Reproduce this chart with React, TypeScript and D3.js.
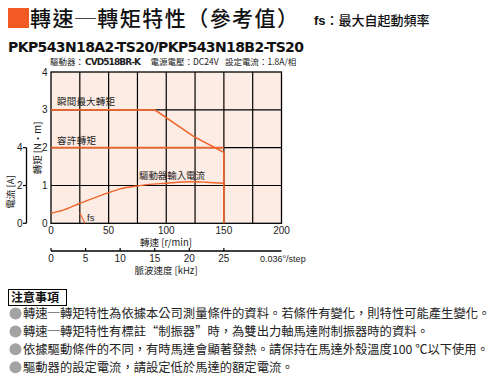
import React from 'react'
import * as d3 from 'd3'

// speed [r/min] vs torque [N·m]
const maxTorque: [number, number][] = [[0, 3], [90, 3], [124, 2.29], [149, 1.89], [150, 1.88], [150, 0]]
const ratedTorque: [number, number][] = [[0, 2], [150, 2]]
// speed [r/min] vs driver input current [A]
const inputCurrent: [number, number][] = [
  [0, 0.53], [10, 0.68], [25, 1.06], [40, 1.4], [50, 1.62], [60, 1.82], [75, 1.98],
  [100, 2.12], [120, 2.2], [135, 2.17], [150, 2.12],
]
const fsLine: [number, number][] = [[25, 0.28], [29.5, 0]]

const speedTicks = [0, 50, 100, 150, 200]
const gridSpeeds = [25, 50, 75, 100, 125, 150, 175]
const torqueTicks = [0, 1, 2, 3, 4]
const currentTicks = [0, 2, 4]
const khzTicks = [0, 5, 10, 15, 20, 25]

const notes = [
  '轉速─轉矩特性為依據本公司測量條件的資料。若條件有變化，則特性可能產生變化。',
  '轉速─轉矩特性有標註“制振器”時，為雙出力軸馬達附制振器時的資料。',
  '依據驅動條件的不同，有時馬達會顯著發熱。請保持在馬達外殼溫度100 ℃以下使用。',
  '驅動器的設定電流，請設定低於馬達的額定電流。',
]

const ORANGE = '#f0652a'
const CJK = '"Noto Sans CJK TC", "Noto Sans", sans-serif'
const NUM = '"Liberation Sans", Arial, sans-serif'

export default function App() {
  const x = d3.scaleLinear().domain([0, 200]).range([51, 281.5])
  const y = d3.scaleLinear().domain([0, 4]).range([223.3, 72])
  const yCur = d3.scaleLinear().domain([0, 4]).range([223.3, 147.7])
  const xKhz = d3.scaleLinear().domain([0, 200 / 6]).range([51, 281.5])

  const torqueLine = d3.line<[number, number]>().x(d => x(d[0])).y(d => y(d[1]))
  const currentLine = d3.line<[number, number]>().x(d => x(d[0])).y(d => yCur(d[1])).curve(d3.curveMonotoneX)

  const [x0, x1] = x.range()
  const [yb, yt] = y.range()

  return (
    <svg width={504} height={380} style={{ position: 'absolute', left: 0, top: 0, background: '#fff' }}>
      {/* header */}
      <rect x={8} y={8} width={21} height={20} fill="#f15a22" />
      <text x={30} y={26} fontFamily={CJK} fontSize={21} fontWeight={500} textLength={268} fill="#111">轉速─轉矩特性（參考值）</text>
      <text x={314} y={24.5} fontFamily={CJK} fontSize={13} fontWeight={500} fill="#111">
        <tspan fontWeight={700} fontFamily={NUM}>fs</tspan>：最大自起動頻率
      </text>
      <text x={8} y={52} fontFamily='"DejaVu Sans", sans-serif' fontSize={14} fontWeight={700} textLength={296} fill="#111">PKP543N18A2-TS20/PKP543N18B2-TS20</text>
      <text x={50} y={65} fontFamily={CJK} fontSize={8.5} fill="#222">驅動器：</text>
      <text x={85} y={65} fontFamily='"DejaVu Sans", sans-serif' fontSize={9} fontWeight={700} textLength={56} fill="#222">CVD518BR-K</text>
      <text x={150.5} y={65} fontFamily={CJK} fontSize={8.5} fill="#222">電源電壓：DC24V</text>
      <text x={225} y={65} fontFamily={CJK} fontSize={8.5} fill="#222">設定電流：1.8A/相</text>

      {/* plot area */}
      <rect x={x0} y={yt} width={x1 - x0} height={yb - yt} fill="#fdece4" />
      {gridSpeeds.map(s => (
        <line key={'v' + s} x1={x(s)} x2={x(s)} y1={yt} y2={yb} stroke="#000" strokeWidth={1.2} />
      ))}
      {[1, 2, 3].map(t => (
        <line key={'h' + t} x1={x0} x2={x1} y1={y(t)} y2={y(t)} stroke="#000" strokeWidth={1.2} />
      ))}
      <rect x={x0} y={yt} width={x1 - x0} height={yb - yt} fill="none" stroke="#000" strokeWidth={1.3} />

      {/* curves */}
      <path d={torqueLine(ratedTorque) ?? ''} fill="none" stroke={ORANGE} strokeWidth={1.6} />
      <path d={torqueLine(maxTorque) ?? ''} fill="none" stroke={ORANGE} strokeWidth={1.6} />
      <path d={currentLine(inputCurrent) ?? ''} fill="none" stroke={ORANGE} strokeWidth={1.4} />
      <path d={torqueLine(fsLine) ?? ''} fill="none" stroke={ORANGE} strokeWidth={1.2} />

      <text x={57} y={105} fontFamily={CJK} fontSize={9.5} fill="#222" textLength={58}>瞬間最大轉矩</text>
      <text x={57} y={143.5} fontFamily={CJK} fontSize={9.5} fill="#222" textLength={39}>容許轉矩</text>
      <text x={139} y={179} fontFamily={CJK} fontSize={9.5} fill="#222" textLength={66}>驅動器輸入電流</text>
      <text x={87} y={221} fontFamily={NUM} fontSize={9.5} fill="#222">fs</text>

      {/* torque axis labels */}
      {torqueTicks.map(t => (
        <text key={'t' + t} x={47.5} y={y(t) + 3.5} textAnchor="end" fontFamily={NUM} fontSize={10} fill="#222">{t}</text>
      ))}
      <text transform="translate(41,148) rotate(-90)" textAnchor="middle" fontFamily={CJK} fontSize={9.5} fill="#222">轉矩 [N·m]</text>

      {/* current axis */}
      <line x1={26.5} x2={26.5} y1={yCur(4)} y2={yCur(0)} stroke="#000" strokeWidth={1.3} />
      {currentTicks.map(c => (
        <g key={'c' + c}>
          <line x1={23} x2={26.5} y1={yCur(c)} y2={yCur(c)} stroke="#000" strokeWidth={1.2} />
          <text x={22.5} y={yCur(c) + 3.5} textAnchor="end" fontFamily={NUM} fontSize={10} fill="#222">{c}</text>
        </g>
      ))}
      <text transform="translate(14,192) rotate(-90)" textAnchor="middle" fontFamily={CJK} fontSize={9.5} fill="#222">電流 [A]</text>

      {/* speed axis */}
      {speedTicks.map(s => (
        <text key={'s' + s} x={x(s)} y={233.5} textAnchor="middle" fontFamily={NUM} fontSize={10} fill="#222">{s}</text>
      ))}
      <text x={166} y={245.5} textAnchor="middle" fontFamily={CJK} fontSize={9.5} fill="#222">轉速 [r/min]</text>

      {/* pulse speed axis */}
      <line x1={x0} x2={x1} y1={251} y2={251} stroke="#000" strokeWidth={1.3} />
      {khzTicks.map(k => (
        <g key={'k' + k}>
          <line x1={xKhz(k)} x2={xKhz(k)} y1={248} y2={251} stroke="#000" strokeWidth={1.2} />
          <text x={xKhz(k)} y={261.5} textAnchor="middle" fontFamily={NUM} fontSize={10} fill="#222">{k}</text>
        </g>
      ))}
      <text x={260} y={261.5} fontFamily={NUM} fontSize={9} fill="#222">0.036°/step</text>
      <text x={166} y={273.5} textAnchor="middle" fontFamily={CJK} fontSize={9.5} fill="#222">脈波速度 [kHz]</text>

      {/* notes */}
      <rect x={8.5} y={289.5} width={58} height={16} fill="none" stroke="#000" strokeWidth={1} />
      <text x={11} y={302} fontFamily={CJK} fontSize={12} fontWeight={700} fill="#111">注意事項</text>
      {notes.map((n, i) => (
        <g key={'n' + i}>
          <circle cx={15.5} cy={313.5 + i * 17.9} r={6} fill="#a3a3a3" />
          <text x={23} y={317.8 + i * 17.9} fontFamily={CJK} fontSize={12.3} fill="#222">{n}</text>
        </g>
      ))}
    </svg>
  )
}
